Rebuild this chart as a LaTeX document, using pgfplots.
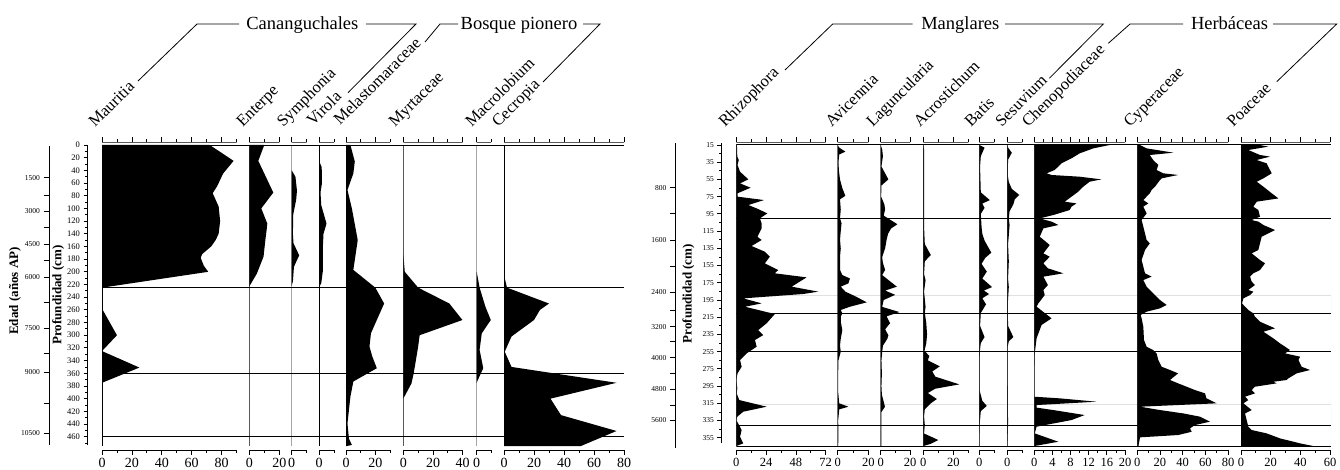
\documentclass[border=0pt]{standalone}
\usepackage{fontspec}
\setmainfont{Liberation Serif}
\usepackage{pgfplots}
\pgfplotsset{compat=1.18}

% one pt = one pixel of the 1340x470 reference
\pgfplotsset{
  col/.style={
    anchor=north west, scale only axis, height=308pt,
    y dir=reverse, hide y axis,
    axis line style={line width=0.9pt},
    every tick/.style={black, line width=0.8pt},
    tick align=outside,
    major tick length=5pt, minor tick length=3pt,
    /pgf/number format/assume math mode=true,
    xmin=0,
  },
  lcol/.style 2 args={col, at={(#1pt,-142pt)}, width=#2pt, ymin=-4.7, ymax=481,
    xticklabel style={font=\fontsize{14}{14}\selectfont}},
  rcol/.style 2 args={col, at={(#1pt,-142pt)}, width=#2pt, ymin=11.5, ymax=369.2,
    xticklabel style={font=\fontsize{12.5}{12.5}\selectfont}},
  silh/.style={fill=black, draw=none, no marks},
  zone/.style={black, line width=0.9pt, no marks},
  depthax/.style={anchor=north west, scale only axis, width=1pt, xmin=0, xmax=1,
    y dir=reverse, hide x axis, axis y line*=left,
    axis line style={line width=0.9pt},
    every tick/.style={black, line width=0.8pt}, tick align=outside,
    /pgf/number format/assume math mode=true},
}
\newcommand{\base}[2]{\draw[line width=0.9pt] (axis cs:0,#1) -- (axis cs:0,#2);}
\tikzset{taxon/.style={rotate=45, anchor=base west, inner sep=0pt, font=\fontsize{16.5}{16.5}\selectfont},
  group/.style={anchor=base, inner sep=0pt, font=\fontsize{18.5}{18.5}\selectfont},
  ytitle/.style={rotate=90, font=\bfseries\fontsize{13}{13}\selectfont}}

\begin{document}
\begin{tikzpicture}
\useasboundingbox (0,0) rectangle (1340pt,-470pt);

% ---------------- left panel ----------------
\begin{axis}[depthax, at={(49pt,-146pt)}, height=299pt, ymin=1.6, ymax=473,
  ytick={51.5,78.9,104,129.9,156.7,182.5,208.7,248.2,289.2,328.6,358.6,407.5,454.8},
  yticklabels={1500,,3000,,4500,,6000,,7500,,9000,,10500},
  major tick length=5.5pt, yticklabel style={font=\fontsize{7.5}{7.5}\selectfont}]
\end{axis}
\begin{axis}[depthax, at={(87pt,-145pt)}, height=300pt, ymin=0, ymax=473.2,
  ytick={0,20,...,460}, minor ytick={10,30,...,470},
  major tick length=3.5pt, minor tick length=2pt,
  yticklabel style={font=\fontsize{8.5}{8.5}\selectfont}]
\end{axis}
\node[ytitle] at (15pt,-291pt) {Edad (años AP)};
\node[ytitle] at (58.3pt,-295pt) {Profundidad (cm)};

\begin{axis}[anchor=north west, at={(102pt,-142pt)}, scale only axis, width=522pt, height=308pt,
  xmin=0, xmax=1, ymin=-4.7, ymax=481, y dir=reverse, hide axis]
\addplot[zone] coordinates {(0,0) (1,0)};
\addplot[zone] coordinates {(0,225) (1,225)};
\addplot[zone] coordinates {(0,360) (1,360)};
\addplot[zone] coordinates {(0,460) (1,460)};
\end{axis}

% Mauritia
\begin{axis}[lcol={102}{134.6}, xmax=90, xtick={0,20,...,80}, minor xtick={10,30,...,90}]
\addplot[silh] coordinates {(0,0) (72,0) (88,25) (81,45) (77,65) (74,76) (78,97) (79,120) (78,140)
  (76,150) (73,160) (67,172) (66,178) (68,190) (71,200) (0,225) (0,258) (10,300) (0,325) (25,351) (0,375)};
\base{0}{475}
\end{axis}
% Enterpe
\begin{axis}[lcol={249.3}{30}, xmax=20, xtick={0,20}, minor xtick={10}]
\addplot[silh] coordinates {(0,0) (10,0) (6,25) (16,75) (8,100) (12,124) (11.5,135) (10.7,150)
  (9.5,176) (5,203) (0,223)};
\base{0}{475}
\end{axis}
% Symphonia
\begin{axis}[lcol={291.7}{15}, xmax=10, xtick={0}, minor xtick={10}]
\addplot[silh] coordinates {(0,40) (2.5,50) (3.5,72) (3,86) (1,110) (0.8,140) (1.2,155) (5,174)
  (1.5,192) (0.8,215) (0,222)};
\base{0}{475}
\end{axis}
% Virola
\begin{axis}[lcol={319}{15}, xmax=10, xtick={0}, minor xtick={10}]
\addplot[silh] coordinates {(0,25) (1.8,35) (2,60) (1,75) (1.5,95) (5,124) (3,140) (2.5,165)
  (2.5,200) (1.5,218) (0,224)};
\base{0}{475}
\end{axis}
% Melastomaraceae
\begin{axis}[lcol={346}{44}, xmax=30, xtick={0,20}, minor xtick={10,30}]
\addplot[silh] coordinates {(0,0) (3,0) (6,26) (5,45) (1,71) (4,100) (8,150) (5,197) (20,225)
  (26,250) (21,276) (17,297) (16,318) (18,334) (21,352) (5,373) (3,397) (1,439) (2,463) (4,473) (0,475)};
\base{0}{475}
\end{axis}
% Myrtaceae
\begin{axis}[lcol={403.3}{59.4}, xmax=40, xtick={0,20,40}, minor xtick={10,30}]
\addplot[silh] coordinates {(0,172) (1,200) (10,225) (31,250) (39.8,276) (11,300) (10,318)
  (7,360) (5.5,376) (0,400)};
\base{0}{475}
\end{axis}
% Macrolobium
\begin{axis}[lcol={476.7}{14.5}, xmax=10, xtick={0}, minor xtick={10}]
\addplot[silh] coordinates {(0,200) (2,225) (6,255) (9.7,276) (3.5,297) (2,323) (4.5,352)
  (0.5,372) (0,375)};
\base{0}{475}
\end{axis}
% Cecropia
\begin{axis}[lcol={504}{120}, xmax=80, xtick={0,20,...,80}, minor xtick={10,30,...,70}]
\addplot[silh] coordinates {(0,205) (2,225) (30,250) (24,260) (20,276) (5,302) (0.5,326) (5,350)
  (75,375) (31,400) (38,426) (75,451) (51,475) (0,475)};
\base{0}{475}
\end{axis}

\node[taxon] at (95pt,-128pt) {Mauritia};
\node[taxon] at (242.7pt,-128pt) {Enterpe};
\node[taxon] at (283.3pt,-128pt) {Symphonia};
\node[taxon] at (313pt,-127pt) {Virola};
\node[taxon] at (340pt,-126pt) {Melastomaraceae};
\node[taxon] at (395pt,-128pt) {Myrtaceae};
\node[taxon] at (471.7pt,-128pt) {Macrolobium};
\node[taxon] at (498.3pt,-128pt) {Cecropia};

\node[group] at (302.3pt,-30pt) {Cananguchales};
\node[group] at (519pt,-30pt) {Bosque pionero};
\draw[line width=0.8pt] (138pt,-81pt) -- (197pt,-24pt) -- (239pt,-24pt);
\draw[line width=0.8pt] (366pt,-24pt) -- (416pt,-24pt) -- (348pt,-92.7pt);
\draw[line width=0.8pt] (425pt,-42pt) -- (440pt,-24pt) -- (458pt,-24pt);
\draw[line width=0.8pt] (583pt,-24pt) -- (600pt,-24pt) -- (543pt,-82pt);

% ---------------- right panel ----------------
\begin{axis}[depthax, at={(675pt,-143pt)}, height=305pt, ymin=12.7, ymax=366.9,
  ytick={64.5,94.4,125.3,156.3,186.1,207.4,226,243.4,262,280.2,298.8,317,334.4},
  yticklabels={800,,1600,,2400,,3200,,4000,,4800,,5600},
  major tick length=5pt, yticklabel style={font=\fontsize{7.5}{7.5}\selectfont}]
\end{axis}
\begin{axis}[depthax, at={(721pt,-143pt)}, height=300pt, ymin=12.7, ymax=361.1,
  ytick={15,35,...,355}, minor ytick={25,45,...,345},
  major tick length=3.7pt, minor tick length=2pt,
  yticklabel style={font=\fontsize{7.5}{7.5}\selectfont}]
\end{axis}
\node[ytitle] at (688.3pt,-293.7pt) {Profundidad (cm)};

\begin{axis}[anchor=north west, at={(736.3pt,-142pt)}, scale only axis, width=594.7pt, height=308pt,
  xmin=0, xmax=1, ymin=11.5, ymax=369.2, y dir=reverse, hide axis]
\addplot[black!12, line width=0.9pt, no marks] coordinates {(0,190) (1,190) (1,210.5)};
\addplot[black!12, line width=0.9pt, no marks] coordinates {(0,315.8) (1,315.8) (1,340.2)};
\addplot[zone] coordinates {(0,14) (1,14)};
\addplot[zone] coordinates {(0,100.2) (1,100.2)};
\addplot[zone] coordinates {(0,210.5) (1,210.5)};
\addplot[zone] coordinates {(0,254.3) (1,254.3)};
\addplot[zone] coordinates {(0,340.2) (1,340.2)};
\addplot[zone] coordinates {(0,364.6) (1,364.6)};
\end{axis}

% Rhizophora
\begin{axis}[rcol={736.3}{89.4}, xmax=72, xtick={0,24,48,72}, minor xtick={12,36,60}]
\addplot[silh] coordinates {(0,15) (0.5,15) (0.8,28.5) (2,32.4) (1,38.2) (3,46) (9.7,54.9) (3,59.5)
  (11.5,64.6) (1,71.1) (1,75) (22.3,78.9) (9.7,84.7) (16.4,88.6) (25,94.4) (19,100.2) (20.4,106)
  (20.4,111.8) (17,121.5) (20.4,125.3) (12.3,132.3) (23,138.9) (27,144.7) (23,152.4) (33.8,160.2)
  (31,164) (56.6,168.7) (44.6,179.5) (66,185.3) (54,188) (5.6,193.1) (20.4,198.9) (7,202.8)
  (31,211.3) (24.4,222.1) (17.7,229.9) (21.7,235.7) (15,241.5) (16.4,249.2) (8.3,257) (3,264.7)
  (4.3,272.5) (1,280.2) (0,287.9) (0.8,297.6) (0.3,303.4) (2.4,311.2) (24.4,318.9) (5.6,324.7)
  (0.8,330.5) (0,334.4) (4.3,346) (3,353.8) (5.6,361.5) (0,364.6)};
\base{14}{364.6}
\end{axis}
% Avicennia
\begin{axis}[rcol={837.7}{30.6}, xmax=20, xtick={0,20}, minor xtick={10}]
\addplot[silh] coordinates {(0,15) (1,18) (5,22.7) (1,26) (0.5,35) (0.8,45) (1.5,55) (3,65) (5,74)
  (1.5,78) (2,90) (1.5,100) (2.5,106) (2,115) (1.5,125) (2,135) (1.5,145) (1.5,160) (3,166) (8,170)
  (7,175.7) (2,179.5) (5,185.3) (12,191.1) (19,197.7) (8,202.8) (2,206.6) (3,210.5) (2,214.4) (2,220)
  (3,230) (2,240) (1.5,248) (2,255) (0.5,265) (0.3,280) (0.2,300) (1,315) (7,318.9) (1,322)
  (0.3,335) (0.5,350) (0.3,364.6) (0,364.6)};
\base{14}{364.6}
\end{axis}
% Laguncularia
\begin{axis}[rcol={880.7}{29.5}, xmax=20, xtick={0,20}, minor xtick={10}]
\addplot[silh] coordinates {(0,15) (1,20) (1.5,28) (0.5,40) (5.2,54.9) (0.5,62) (0.3,75) (2.5,84)
  (3,90) (2,97) (11.3,107) (7,112) (5,118) (4,125) (3,135) (1,145) (1.5,152) (3,160) (1,166)
  (10.9,179.5) (3,184) (9.8,189) (2,195) (1,203) (12.7,209) (4,214) (6.3,222) (3,229) (5.2,236)
  (4.5,240) (1.5,248) (1,256) (0.5,265) (0.8,280) (0.5,295) (0.8,305) (2.9,318.9) (0.5,325)
  (0.5,345) (0.5,364.6) (0,364.6)};
\base{14}{364.6}
\end{axis}
% Acrostichum
\begin{axis}[rcol={923.3}{45}, xmax=30, xtick={0,20}, minor xtick={10,30}]
\addplot[silh] coordinates {(0,15) (0.5,20) (0.5,110) (1,130) (5,142.8) (1,150) (0.5,165) (1.5,172)
  (0.5,185) (1.5,203) (1,210) (2,222) (2.5,235) (2,245) (0.8,254) (4,260) (3,265) (11,272) (6,278)
  (8,284) (24,293) (8,298) (3,303) (9,310) (5,315) (1,322) (0.5,330) (1,340) (0.5,350) (10,357.6)
  (5,362) (0,364.6)};
\base{14}{364.6}
\end{axis}
% Batis
\begin{axis}[rcol={979.3}{15}, xmax=10, xtick={0}, minor xtick={10}]
\addplot[silh] coordinates {(0,15) (3.5,18) (1,28) (0.5,40) (1,70) (7,79) (2,83) (3.5,88) (1,95)
  (1.5,110) (2,118) (3.5,126) (8,140) (4,146) (1.5,153) (5,162) (2,170) (8.5,180) (3,184) (6.5,188)
  (2,193) (4.5,200) (1,210) (0.5,225) (3.5,238) (1,245) (0.3,255) (0.2,300) (2,312) (5,318) (1,324)
  (0.2,340) (0,364.6)};
\base{14}{364.6}
\end{axis}
% Sesuvium
\begin{axis}[rcol={1007.3}{15}, xmax=10, xtick={0}, minor xtick={10}]
\addplot[silh] coordinates {(0,15) (0.5,18) (3,24) (0.5,32) (0.3,50) (1,58) (3,66) (8,73) (5,78)
  (4,84) (1.5,92) (1,100) (1.5,108) (1,120) (0.5,130) (1,150) (0.5,170) (1,180) (0.3,200) (0.5,225)
  (4,238) (1,243) (0.2,250) (0.3,300) (0.5,340) (0,364.6)};
\base{14}{364.6}
\end{axis}
% Chenopodiaceae
\begin{axis}[rcol={1034.3}{90.7}, xmax=20, xtick={0,4,...,20}, minor xtick={2,6,...,18}]
\addplot[silh] coordinates {(0,15) (16.6,15) (13,18.9) (10,24.7) (8.2,30.5) (6,36.3) (4.5,44)
  (2.7,47.9) (3.8,49.8) (10,51.8) (14.8,54.9) (12.2,57.6) (10.8,63.4) (9.7,69.2) (8.2,75) (6.7,80.8)
  (9.3,82.8) (8.2,86.6) (7.8,90.5) (4.2,96.3) (1.2,100.2) (3.8,104) (5.3,107.9) (2,111.8) (1.2,121.5)
  (3.4,131.1) (2,140.8) (3.4,144.7) (2,152.4) (3,158.2) (6.4,164) (2,167.9) (3,177.6) (2,183.4)
  (2.3,189.2) (0.9,198.9) (0.5,202.7) (3.8,216.3) (1.6,224) (0.5,239.5) (0.1,257) (0,280.2)
  (0,307.3) (5.6,309.2) (13.7,313.1) (0.5,317) (0.5,320) (4.2,322.8) (11.1,328.6) (8.2,334.4)
  (0.5,342.1) (0.1,349.9) (5.3,359.6) (0,364.6)};
\base{14}{364.6}
\end{axis}
% Cyperaceae
\begin{axis}[rcol={1137.3}{90.7}, xmax=80, xtick={0,20,...,80}, minor xtick={10,30,...,70}]
\addplot[silh] coordinates {(0,15) (2.4,15) (8.2,18.9) (31.8,23.9) (11,26.6) (14,32.4) (18.5,38.2)
  (17,44) (23,47.9) (36,49.8) (21.5,53.7) (20,55.7) (15.6,63.4) (12.6,67.3) (11,71.1) (5.3,78.9)
  (9.7,82.8) (5.3,86.6) (8.2,94.4) (3.8,102.1) (5.3,109.9) (6.8,117.6) (8.2,125.3) (11,129.2)
  (6.8,136.9) (3.8,148.6) (5.3,156.3) (6.8,164) (12.6,167.9) (5.3,171.8) (8.2,179.5) (14,187.3)
  (20,195) (25.9,200.8) (20,204.7) (8.2,208.6) (2.9,212.4) (3.8,216.3) (5.3,226) (5.9,241.5)
  (8.2,249.2) (14,253.1) (17,257) (18.5,264.7) (21.5,272.5) (28.8,276.3) (36,280.2) (28.8,287.9)
  (36,291.8) (43.5,295.7) (50.9,299.6) (59.7,303.4) (61,309.2) (70,315) (2.4,318.9) (20,322.8)
  (40.6,326.7) (55.3,330.5) (64.1,336.3) (50.9,340.2) (46.5,344.1) (48,348) (36,351.8) (2.4,354.5)
  (1,364.6) (0,364.6)};
\base{14}{364.6}
\end{axis}
% Poaceae
\begin{axis}[rcol={1241}{89}, xmax=60, xtick={0,20,40,60}, minor xtick={10,30,50}]
\addplot[silh] coordinates {(0,15) (12.8,15) (18.4,16.9) (4.9,20.8) (12.8,26.6) (19.6,28.5)
  (10.6,32.4) (17.3,36.3) (18.4,40.2) (20.7,47.9) (15.1,53.7) (10.6,57.6) (15.1,63.4) (20.7,71.1)
  (25.2,77) (10.6,80.8) (8.3,86.6) (11.7,90.5) (12.8,98.2) (7.2,102.1) (11.7,104) (15.1,107.9)
  (22.9,113.7) (13.9,121.5) (12.8,129.2) (11.7,136.9) (7.2,140.8) (12.8,148.6) (16.2,152.4)
  (12.8,160.2) (8.3,164) (6.1,167.9) (7.2,173.7) (9.4,177.6) (4.9,183.4) (8.3,185.3) (6.1,189.2)
  (1.6,193.1) (0.7,198.9) (2.7,202.8) (4.9,206.6) (8.3,210.5) (9.4,214.4) (12.8,220.2) (22.9,227.9)
  (15.1,231.8) (21.8,239.5) (26.3,245.4) (29.7,249.2) (33,253.1) (29.7,257) (39.8,260.8) (38.7,264.7)
  (40.9,272.5) (46.5,276.3) (37.5,280.2) (31.9,286) (30.8,287.9) (21.8,289.9) (24,291.8) (9.4,295.7)
  (7.2,299.6) (9.4,303.4) (2.7,307.3) (4.9,311.2) (1.6,315) (7.2,322.8) (2.7,326.7) (3.8,334.4)
  (4.9,342.1) (7.2,346) (17.3,349.9) (26.3,355.7) (39.8,361.5) (48.8,364.6) (0,364.6)};
\base{14}{364.6}
\end{axis}

\node[taxon] at (725pt,-128pt) {Rhizophora};
\node[taxon] at (831.7pt,-128pt) {Avicennia};
\node[taxon] at (872.7pt,-128pt) {Laguncularia};
\node[taxon] at (920pt,-128pt) {Acrostichum};
\node[taxon] at (971pt,-128pt) {Batis};
\node[taxon] at (1001.7pt,-128pt) {Sesuvium};
\node[taxon] at (1028.3pt,-128pt) {Chenopodiaceae};
\node[taxon] at (1130pt,-128pt) {Cyperaceae};
\node[taxon] at (1233.3pt,-128pt) {Poaceae};

\node[group] at (960.3pt,-30pt) {Manglares};
\node[group] at (1229.5pt,-30pt) {Herbáceas};
\draw[line width=0.8pt] (785pt,-70pt) -- (832.7pt,-24pt) -- (912.7pt,-24pt);
\draw[line width=0.8pt] (1005pt,-24pt) -- (1103.3pt,-24pt) -- (1049.3pt,-78.3pt);
\draw[line width=0.8pt] (1108.3pt,-43.3pt) -- (1130pt,-24pt) -- (1183pt,-24pt);
\draw[line width=0.8pt] (1273pt,-24pt) -- (1336.7pt,-24pt) -- (1276.7pt,-81.7pt);
\end{tikzpicture}
\end{document}
